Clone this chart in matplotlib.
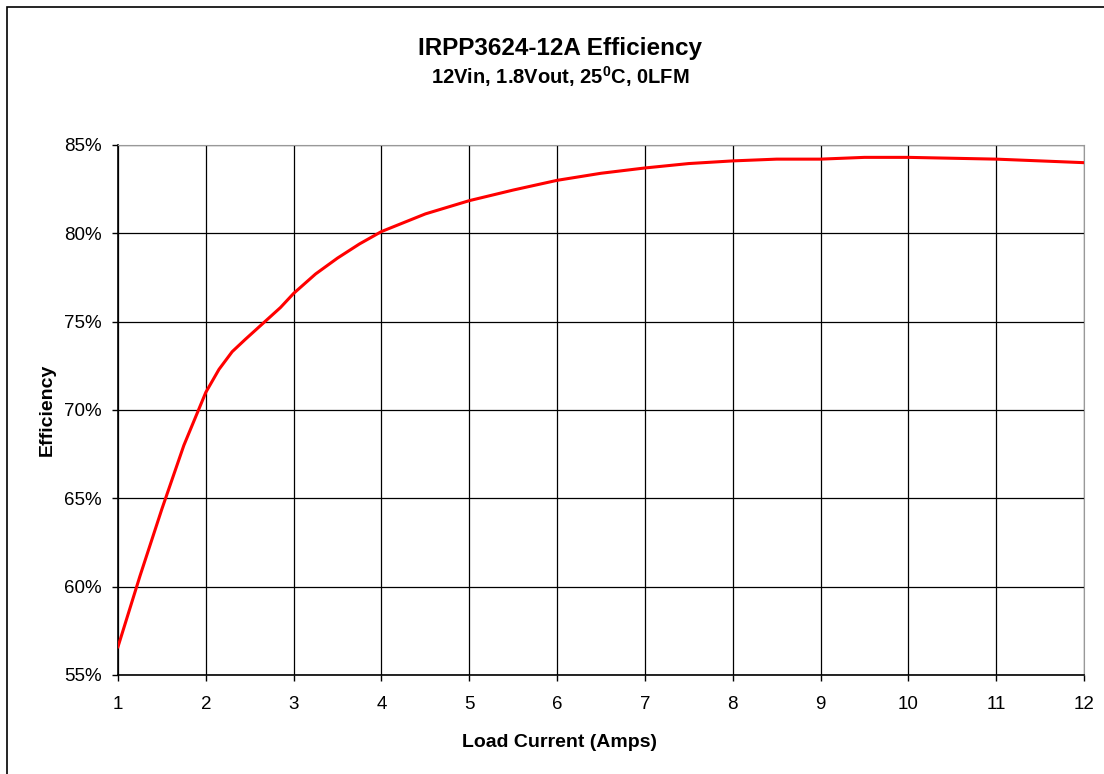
import matplotlib
matplotlib.use("Agg")
import matplotlib.pyplot as plt
from matplotlib.patches import Rectangle
from matplotlib.ticker import FuncFormatter

plt.rcParams["font.family"] = ["Liberation Sans", "DejaVu Sans"]
plt.rcParams["mathtext.fontset"] = "custom"
plt.rcParams["mathtext.bf"] = "Liberation Sans:bold"
plt.rcParams["mathtext.rm"] = "Liberation Sans"

# load current (A) and efficiency (%)
load_amps = [1.0, 1.25, 1.5, 1.75, 2.0, 2.15, 2.3, 2.45, 2.65, 2.85, 3.0, 3.25, 3.5, 3.75,
             4.0, 4.5, 5.0, 5.5, 6.0, 6.5, 7.0, 7.5, 8.0, 8.5, 9.0, 9.5,
             10.0, 10.5, 11.0, 12.0]
efficiency = [56.6, 60.6, 64.4, 68.0, 71.0, 72.3, 73.3, 74.0, 74.9, 75.8, 76.6, 77.7, 78.6, 79.4,
              80.1, 81.1, 81.85, 82.45, 83.0, 83.4, 83.7, 83.95, 84.1, 84.2, 84.2, 84.3,
              84.3, 84.25, 84.2, 84.0]

x_ticks = list(range(1, 13))
y_ticks = [55, 60, 65, 70, 75, 80, 85]

W, H = 1104, 774
fig = plt.figure(figsize=(W / 100, H / 100), dpi=100)
ax = fig.add_axes([118 / W, 1 - 675 / H, 966 / W, 530 / H])

ax.plot(load_amps, efficiency, color="#ff0000", lw=2.2, zorder=3)

ax.set_xlim(1, 12)
ax.set_ylim(55, 85)
ax.set_xticks(x_ticks)
ax.set_yticks(y_ticks)
ax.yaxis.set_major_formatter(FuncFormatter(lambda v, _: f"{v:.0f}%"))
ax.grid(True, color="black", lw=0.9)
ax.set_axisbelow(True)
ax.tick_params(direction="out", length=4.5, width=1, labelsize=13.5, color="black")
ax.tick_params(axis="x", pad=10.5)
ax.tick_params(axis="y", pad=7)
for side in ("left", "bottom"):
    ax.spines[side].set_linewidth(1.2)
ax.spines["top"].set_color("#999999")
ax.spines["right"].set_color("#999999")

# axis titles placed at the reference pixel positions
fig.text(560 / W, 1 - 747 / H, "Load Current (Amps)", ha="center", va="baseline",
         fontsize=14, fontweight="bold")
fig.text(52 / W, 1 - 410 / H, "Efficiency", ha="center", va="baseline", rotation=90,
         rotation_mode="anchor", fontsize=14, fontweight="bold")

fig.text(560 / W, 1 - 55 / H, "IRPP3624-12A Efficiency", ha="center", va="baseline",
         fontsize=17.5, fontweight="bold")
fig.text(560 / W, 1 - 84 / H, r"12Vin, 1.8Vout, 25$^\mathbf{0}$C, 0LFM", ha="center",
         va="baseline", fontsize=14.5, fontweight="bold")

# outer chart frame (right and bottom sides fall outside the picture)
fig.patches.append(Rectangle((7 / W, -0.2), 2, 1.2 - 7 / H, transform=fig.transFigure,
                             fill=False, edgecolor="black", lw=1.2))

fig.savefig("out.png", dpi=100)
